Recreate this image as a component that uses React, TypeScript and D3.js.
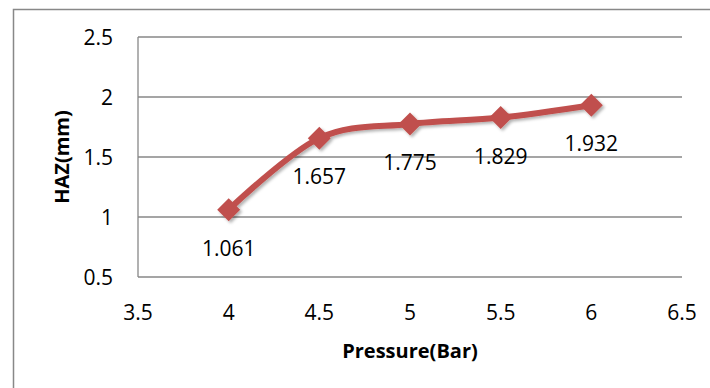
import React from "react";
import * as d3 from "d3";

const pressures = [4, 4.5, 5, 5.5, 6];
const haz = [1.061, 1.657, 1.775, 1.829, 1.932];
const xTicks = [3.5, 4, 4.5, 5, 5.5, 6, 6.5];
const yTicks = [0.5, 1, 1.5, 2, 2.5];

const W = 710;
const H = 388;
const left = 138;
const right = 682;
const top = 37;
const bottom = 277;
const FONT = "'Open Sans', 'Liberation Sans', sans-serif";

export default function App() {
  const x = d3.scaleLinear().domain([3.5, 6.5]).range([left, right]);
  const y = d3.scaleLinear().domain([0.5, 2.5]).range([bottom, top]);
  const pts: [number, number][] = pressures.map((p, i) => [x(p), y(haz[i])]);
  const line = d3.line().curve(d3.curveCatmullRom.alpha(0))(pts) || "";
  const r = 11.5;
  const diamond = (cx: number, cy: number) =>
    `M${cx},${cy - r}L${cx + r},${cy}L${cx},${cy + r}L${cx - r},${cy}Z`;
  return (
    <svg
      width={W}
      height={H}
      style={{ position: "absolute", left: 0, top: 0, background: "#fff" }}
    >
      <defs>
        <filter id="sh" x="-20%" y="-20%" width="140%" height="140%">
          <feDropShadow dx="2" dy="2" stdDeviation="1.5" floodColor="#000" floodOpacity="0.3" />
        </filter>
      </defs>
      <rect x={0} y={0} width={W} height={H} fill="#fff" />
      <rect x={13.5} y={9.5} width={720} height={400} fill="none" stroke="#888" strokeWidth={1.5} />
      {yTicks.map((t) => (
        <line key={"g" + t} x1={left} x2={right} y1={y(t)} y2={y(t)} stroke="#878787" strokeWidth={1.3} />
      ))}
      <line x1={left} x2={left} y1={top} y2={bottom} stroke="#878787" strokeWidth={1.3} />
      {yTicks.map((t) => (
        <text
          key={"y" + t}
          x={113}
          y={y(t)}
          textAnchor="end"
          dominantBaseline="central"
          fontFamily={FONT}
          fontSize={21}
          fill="#000"
        >
          {String(t)}
        </text>
      ))}
      {xTicks.map((t) => (
        <text
          key={"x" + t}
          x={x(t)}
          y={312}
          textAnchor="middle"
          dominantBaseline="central"
          fontFamily={FONT}
          fontSize={21}
          fill="#000"
        >
          {String(t)}
        </text>
      ))}
      <g filter="url(#sh)">
        <path d={line} fill="none" stroke="#C0504D" strokeWidth={6} strokeLinejoin="round" />
        {pts.map(([cx, cy], i) => (
          <path key={"m" + i} d={diamond(cx, cy)} fill="#C0504D" />
        ))}
      </g>
      {pts.map(([cx, cy], i) => (
        <text
          key={"l" + i}
          x={cx}
          y={cy + 38}
          textAnchor="middle"
          dominantBaseline="central"
          fontFamily={FONT}
          fontSize={21}
          fill="#000"
        >
          {haz[i].toFixed(3)}
        </text>
      ))}
      <text
        x={410}
        y={350}
        textAnchor="middle"
        dominantBaseline="central"
        fontFamily={FONT}
        fontWeight="bold"
        fontSize={20}
        fill="#000"
      >
        Pressure(Bar)
      </text>
      <text
        transform={`translate(61,157) rotate(-90)`}
        textAnchor="middle"
        dominantBaseline="central"
        fontFamily={FONT}
        fontWeight="bold"
        fontSize={20}
        fill="#000"
      >
        HAZ(mm)
      </text>
    </svg>
  );
}
